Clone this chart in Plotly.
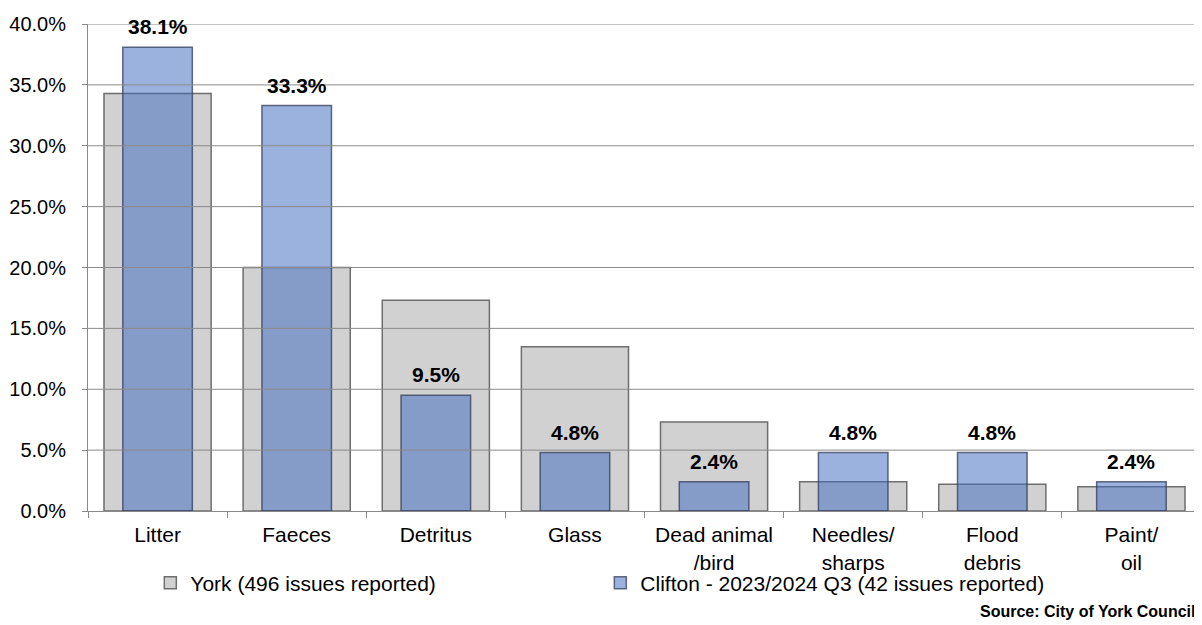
import plotly.graph_objects as go

categories = ["Litter", "Faeces", "Detritus", "Glass", "Dead animal<br>/bird",
              "Needles/<br>sharps", "Flood<br>debris", "Paint/<br>oil"]
york_values = [34.3, 20.0, 17.3, 13.5, 7.3, 2.4, 2.2, 2.0]
clifton_values = [38.1, 33.3, 9.5, 4.8, 2.4, 4.8, 4.8, 2.4]
york_name = "York (496 issues reported)"
clifton_name = "Clifton - 2023/2024 Q3 (42 issues reported)"
y_ticks = [0, 5, 10, 15, 20, 25, 30, 35, 40]
y_tick_labels = ["0.0%", "5.0%", "10.0%", "15.0%", "20.0%", "25.0%", "30.0%", "35.0%", "40.0%"]
source_text = "Source: City of York Council"

FONT = "Liberation Sans, Arial, sans-serif"
GRID = "#8a8a8a"

fig = go.Figure()
fig.add_trace(go.Bar(
    x=categories, y=york_values, name=york_name, width=0.77,
    marker=dict(color="#d1d1d1", line=dict(color="#6e6e6e", width=1.5)),
))
fig.add_trace(go.Bar(
    x=categories, y=clifton_values, name=clifton_name, width=0.5,
    marker=dict(color="rgba(66,108,192,0.52)", line=dict(color="rgba(50,60,90,0.75)", width=1.5)),
))

# value labels above the Clifton bars
for cat, val in zip(categories, clifton_values):
    fig.add_annotation(x=cat, y=val, xref="x", yref="y", text="<b>%.1f%%</b>" % val,
                       showarrow=False, yanchor="bottom", yshift=7,
                       font=dict(family=FONT, size=21, color="#000000"))

# gridlines drawn above the bars, as in the reference
for v in y_ticks[1:]:
    fig.add_shape(type="line", xref="paper", x0=0, x1=1, yref="y", y0=v, y1=v,
                  line=dict(color=GRID, width=1), layer="above")

fig.add_annotation(text="<b>" + source_text + "</b>", xref="paper", yref="paper",
                   x=1.0, y=-0.207, xanchor="right", yanchor="middle", showarrow=False,
                   xshift=-4, font=dict(family=FONT, size=16, color="#000000"))

fig.update_layout(
    width=1194, height=617,
    margin=dict(l=80, r=1, t=16, b=114),
    barmode="overlay",
    plot_bgcolor="white", paper_bgcolor="white",
    font=dict(family=FONT, size=20, color="#000000"),
    legend=dict(orientation="h", x=0.056, xanchor="left", y=-0.148, yanchor="middle",
                font=dict(family=FONT, size=21), entrywidth=405, entrywidthmode="pixels",
                bgcolor="rgba(0,0,0,0)", traceorder="normal", itemclick=False),
    showlegend=True,
)
fig.update_yaxes(range=[0, 40], tickvals=y_ticks, ticktext=y_tick_labels,
                 showgrid=False, zeroline=False, showline=True, linecolor=GRID, linewidth=1,
                 mirror=True, ticks="outside", ticklen=5, tickcolor=GRID, ticklabelstandoff=12,
                 tickfont=dict(family=FONT, size=20))
fig.update_xaxes(showgrid=False, showline=True, linecolor=GRID, linewidth=1,
                 ticks="outside", tickson="boundaries", ticklen=6, tickcolor=GRID,
                 ticklabelstandoff=5, tickfont=dict(family=FONT, size=21))

fig.write_html("out.html")
